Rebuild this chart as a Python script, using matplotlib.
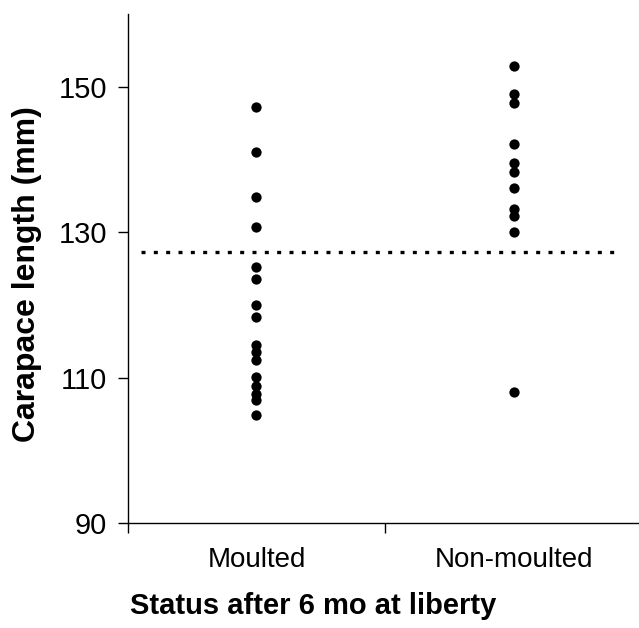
import matplotlib.pyplot as plt
import numpy as np

plt.rcParams['font.family'] = ['Liberation Sans', 'DejaVu Sans']

categories = ["Moulted", "Non-moulted"]
moulted = [147.2, 141.1, 134.9, 130.7, 125.2, 123.6, 120.0, 118.3,
           114.5, 113.5, 112.4, 110.1, 108.9, 107.8, 106.9, 104.9]
non_moulted = [152.9, 149.0, 147.8, 142.1, 139.5, 138.3, 136.1,
               133.2, 132.2, 130.1, 108.0]
threshold = 127.3
threshold_span = (0.55, 2.41)
yticks = [90, 110, 130, 150]

fig = plt.figure(figsize=(6.39, 6.28), dpi=100)
ax = fig.add_axes([0.2003, 0.1667, 0.8044, 0.811])

for i, vals in enumerate([moulted, non_moulted]):
    ax.plot(np.full(len(vals), i + 1), vals, "o", color="black",
            markersize=7.4, markeredgewidth=0, clip_on=False)

ax.plot(threshold_span, [threshold, threshold], color="black",
        linewidth=2.4, linestyle=(0, (1.2, 2.5)), dash_capstyle="butt")

ax.set_xlim(0.5, 2.5)
ax.set_ylim(90, 160)
ax.set_yticks(yticks)
ax.set_xticks([0.5, 1.5, 2.5])
ax.set_xticklabels([])
ax.set_xticks([1, 2], minor=True)
ax.set_xticklabels(categories, minor=True)
ax.tick_params(axis="x", which="minor", length=0, pad=17, labelsize=20)
ax.tick_params(axis="x", which="major", length=7, width=1, direction="out")
ax.tick_params(axis="y", length=7, width=1, direction="out", labelsize=21, pad=8)

for side in ["top", "right"]:
    ax.spines[side].set_visible(False)
for side in ["left", "bottom"]:
    ax.spines[side].set_linewidth(1)

ax.set_ylabel("Carapace length (mm)", fontsize=23, fontweight="bold", labelpad=12)
ax.set_xlabel("Status after 6 mo at liberty", fontsize=21, fontweight="bold", labelpad=14)
ax.yaxis.label.set_y(0.49)
ax.xaxis.label.set_x(0.36)

fig.savefig("out.png", dpi=100)
